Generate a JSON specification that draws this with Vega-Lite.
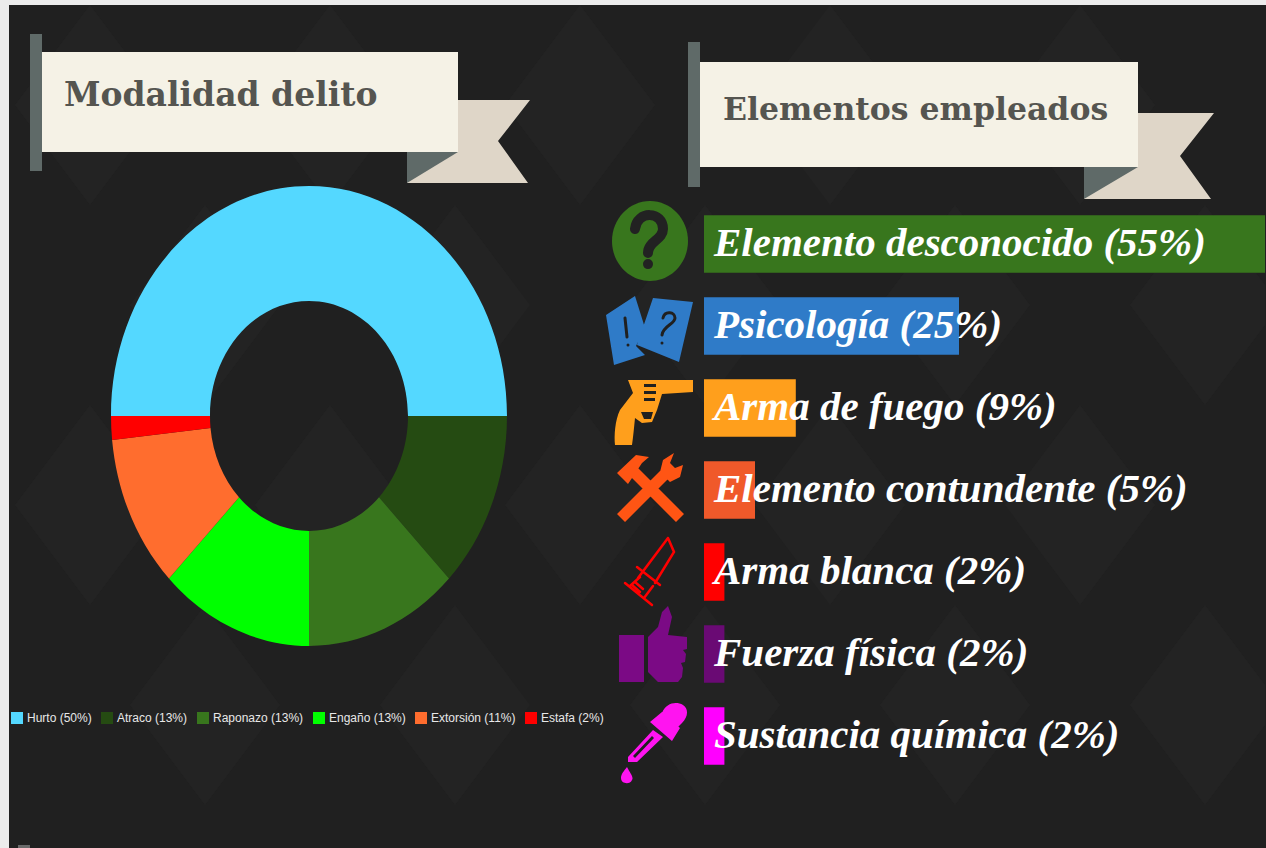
{
"$schema":"https://vega.github.io/schema/vega-lite/v6.json",
"width":1266,"height":848,"padding":0,"autosize":{"type":"none"},"background":"#ececec",
"config":{"view":{"stroke":null},"style":{"cell":{"stroke":null}}},
"datasets":{
"fondo":[{"parte":"panel"},{"parte":"textura"},{"parte":"marca"}],
"cinta":[{"parte":"poste1"},{"parte":"cola1"},{"parte":"pliegue1"},{"parte":"banner1"},{"parte":"poste2"},{"parte":"cola2"},{"parte":"pliegue2"},{"parte":"banner2"}],
"modalidad":[{"categoria":"Hurto","modalidad":"Hurto (50%)","pct":50},{"categoria":"Atraco","modalidad":"Atraco (13%)","pct":13},{"categoria":"Raponazo","modalidad":"Raponazo (13%)","pct":13},{"categoria":"Engaño","modalidad":"Engaño (13%)","pct":13},{"categoria":"Extorsión","modalidad":"Extorsión (11%)","pct":11},{"categoria":"Estafa","modalidad":"Estafa (2%)","pct":2}],
"elementos":[{"elemento":"Elemento desconocido (55%)","pct":55},{"elemento":"Psicología (25%)","pct":25},{"elemento":"Arma de fuego (9%)","pct":9},{"elemento":"Elemento contundente (5%)","pct":5},{"elemento":"Arma blanca (2%)","pct":2},{"elemento":"Fuerza física (2%)","pct":2},{"elemento":"Sustancia química (2%)","pct":2}],
"trazos":[{"elemento":"Elemento desconocido (55%)","trazo":"q"},{"elemento":"Psicología (25%)","trazo":"c"},{"elemento":"Arma blanca (2%)","trazo":"k"}]
},
"resolve":{"scale":{"x":"independent","color":"independent","shape":"independent"}},
"layer":[
{"data":{"name":"fondo"},"mark":{"type":"point","filled":true,"size":4,"opacity":1,"strokeWidth":0},
"encoding":{"x":{"value":0},"y":{"value":0},
"shape":{"field":"parte","type":"nominal","legend":null,"scale":{"domain":["panel","textura","marca"],"range":[
"M9 5H1266V848H9Z",
"M90 5l75 100l-75 100l-75 -100zM330 5l75 100l-75 100l-75 -100zM580 5l75 100l-75 100l-75 -100zM830 5l75 100l-75 100l-75 -100zM1080 5l75 100l-75 100l-75 -100zM205 205l75 100l-75 100l-75 -100zM455 205l75 100l-75 100l-75 -100zM705 205l75 100l-75 100l-75 -100zM955 205l75 100l-75 100l-75 -100zM1205 205l60 80l0 40l-60 80l-75 -100zM90 405l75 100l-75 100l-75 -100zM330 405l75 100l-75 100l-75 -100zM580 405l75 100l-75 100l-75 -100zM830 405l75 100l-75 100l-75 -100zM1080 405l75 100l-75 100l-75 -100zM205 605l75 100l-75 100l-75 -100zM455 605l75 100l-75 100l-75 -100zM705 605l75 100l-75 100l-75 -100zM955 605l75 100l-75 100l-75 -100zM1205 605l60 80l0 40l-60 80l-75 -100z",
"M18 845H30V848H18Z"]}},
"color":{"field":"parte","type":"nominal","legend":null,"scale":{"domain":["panel","textura","marca"],"range":["#202020","#232323","#6a6a6a"]}}}},
{"data":{"name":"cinta"},"mark":{"type":"point","filled":true,"size":4,"opacity":1,"strokeWidth":0},
"encoding":{"x":{"value":0},"y":{"value":0},
"shape":{"field":"parte","type":"nominal","legend":null,"sort":null,"scale":{"domain":["poste1","cola1","pliegue1","banner1","poste2","cola2","pliegue2","banner2"],"range":[
"M30 34H42V171H30Z","M407 100H530L498 141L528 183H407Z","M407 152H458L407 183Z","M42 52H458V152H42Z",
"M688 42H700V187H688Z","M1084 113H1214L1180 156L1211 199H1084Z","M1084 167H1138L1084 199Z","M700 62H1138V167H700Z"]}},
"color":{"field":"parte","type":"nominal","legend":null,"sort":null,"scale":{"domain":["poste1","cola1","pliegue1","banner1","poste2","cola2","pliegue2","banner2"],"range":["#5f6a68","#dfd6c8","#5f6a68","#f5f2e6","#5f6a68","#dfd6c8","#5f6a68","#f5f2e6"]}}}},
{"data":{"values":[{"titulo":"Modalidad delito"}]},"mark":{"type":"text","font":"DejaVu Serif","fontWeight":"bold","fontSize":33,"align":"left","baseline":"alphabetic","color":"#555550"},
"encoding":{"x":{"value":64},"y":{"value":106},"text":{"field":"titulo"}}},
{"data":{"values":[{"titulo":"Elementos empleados"}]},"mark":{"type":"text","font":"DejaVu Serif","fontWeight":"bold","fontSize":31.5,"align":"left","baseline":"alphabetic","color":"#555550"},
"encoding":{"x":{"value":723},"y":{"value":120},"text":{"field":"titulo"}}},
{"data":{"name":"modalidad"},"mark":{"type":"point","filled":true,"size":4,"opacity":1,"strokeWidth":0},
"encoding":{"x":{"value":309},"y":{"value":416},
"shape":{"field":"categoria","type":"nominal","legend":null,"sort":null,"scale":{"domain":["Hurto","Atraco","Raponazo","Engaño","Extorsión","Estafa"],"range":[
"M-198 0A198 230 0 0 1 198 0L99 0A99 115 0 0 0 -99 0Z",
"M198 0A198 230 0 0 1 140 162.6L70 81.3A99 115 0 0 0 99 0Z",
"M140 162.6A198 230 0 0 1 0 230L0 115A99 115 0 0 0 70 81.3Z",
"M0 230A198 230 0 0 1 -140 162.6L-70 81.3A99 115 0 0 0 0 115Z",
"M-140 162.6A198 230 0 0 1 -196.9 24L-98.5 12A99 115 0 0 0 -70 81.3Z",
"M-196.9 24A198 230 0 0 1 -198 0L-99 0A99 115 0 0 0 -98.5 12Z"]}},
"color":{"field":"modalidad","type":"nominal","sort":null,"scale":{"domain":["Hurto (50%)","Atraco (13%)","Raponazo (13%)","Engaño (13%)","Extorsión (11%)","Estafa (2%)"],"range":["#54d8ff","#254b12","#38761d","#00ff00","#ff6d2e","#ff0000"]},
"legend":{"title":null,"orient":"none","legendX":11,"legendY":712,"direction":"horizontal","columns":6,"symbolType":"square","symbolSize":144,"symbolStrokeWidth":0,"symbolOpacity":1,"labelColor":"#e8e8e8","labelFont":"Liberation Sans","labelFontSize":12,"labelOffset":4,"columnPadding":9,"padding":0,"labelLimit":120}}}},
{"data":{"name":"elementos"},"mark":{"type":"bar","opacity":1},
"encoding":{"y":{"field":"elemento","type":"nominal","sort":null,"axis":null,"scale":{"type":"band","domain":["Elemento desconocido (55%)","Psicología (25%)","Arma de fuego (9%)","Elemento contundente (5%)","Arma blanca (2%)","Fuerza física (2%)","Sustancia química (2%)"],"range":[203,777],"paddingInner":0.3,"paddingOuter":0.15}},
"x":{"field":"pct","type":"quantitative","axis":null,"scale":{"domain":[0,55],"range":[704,1265]}},
"color":{"field":"elemento","type":"nominal","legend":null,"sort":null,"scale":{"domain":["Elemento desconocido (55%)","Psicología (25%)","Arma de fuego (9%)","Elemento contundente (5%)","Arma blanca (2%)","Fuerza física (2%)","Sustancia química (2%)"],"range":["#38761d","#2f7bc8","#ff9f1c","#f0592a","#ff0000","#6a0a74","#ff00ff"]}}}},
{"data":{"name":"elementos"},"mark":{"type":"point","filled":true,"size":4,"opacity":1,"strokeWidth":0},
"encoding":{"x":{"value":650},
"y":{"field":"elemento","type":"nominal","sort":null,"axis":null,"scale":{"type":"band"}},
"shape":{"field":"elemento","type":"nominal","legend":null,"sort":null,"scale":{"domain":["Elemento desconocido (55%)","Psicología (25%)","Arma de fuego (9%)","Elemento contundente (5%)","Arma blanca (2%)","Fuerza física (2%)","Sustancia química (2%)"],"range":[
"M-38 -3A38 40 0 1 1 38 -3A38 40 0 1 1 -38 -3Z",
"M-44 -11L-15 -30L-5 2L-14 20L-5 29L-36 39ZM3 -28L43 -24L29 36L-13 19Z",
"M43 -28L43 -16L12 -14L7 2L2 14L-8 15L-15 10C-16 20 -17 30 -18 37L-35 37C-36 28 -35 12 -30 2L-17 -15L-22 -28ZM-6 -24L-6 -21L6 -21L6 -24ZM-6 -17L-6 -14L6 -14L6 -17ZM-6 -10L-6 -7L5 -7L5 -10ZM-9 4L-6 11L1 11L3 4Z",
"M-18 -28L34 24L26 32L-26 -20ZM-33 -17L-14 -35L-1 -33L-8 -27L-22 -6ZM-33 24L14 -23L22 -15L-25 32ZM10 -18L13 -30L24 -37L20 -27L25 -22L33 -25L30 -13L20 -8Z",
"M0 0",
"M-31 -19H-6V28H-31ZM-2 -17L8 -27L12 -42L18 -48L22 -37L18 -19L37 -17L37 -5L33 -4L36 0L35 8L31 9L33 14L32 23L28 28L8 28L-2 18Z",
"M12 -23C16 -33 26 -35 33 -31C39 -27 38 -19 32 -13L28 -9ZM0 -14L12 -24L30 -8L22 5ZM3 -6L13 1L-13 26L-22 26L-22 21ZM2 0L-17 20L-15 22L4 2ZM-23 31C-20 37 -16 41 -18 44C-20 49 -29 48 -29 42C-29 38 -26 35 -23 31Z"]}},
"color":{"field":"elemento","type":"nominal","legend":null,"sort":null,"scale":{"domain":["Elemento desconocido (55%)","Psicología (25%)","Arma de fuego (9%)","Elemento contundente (5%)","Arma blanca (2%)","Fuerza física (2%)","Sustancia química (2%)"],"range":["#38761d","#2f7bc8","#ff9f1c","#ff5514","#ff0000","#7b0a85","#ff14f0"]}}}},
{"data":{"name":"trazos"},"mark":{"type":"point","filled":false,"size":4,"opacity":1,"strokeCap":"round"},
"encoding":{"x":{"value":650},
"y":{"field":"elemento","type":"nominal","sort":null,"axis":null,"scale":{"type":"band"}},
"shape":{"field":"trazo","type":"nominal","legend":null,"scale":{"domain":["q","c","k"],"range":[
"M-15 -15C-13 -34 13 -33 13 -15C13 -4 -2 -3 -2 9M-2 20L-2 20.1",
"M-25 -8L-23 11M-22 19L-22 19.1M13 -8C15 -16 25 -14 25 -8C25 -2 13 0 12 9M12 17L12 17.1",
"M18 -34L24 -20L5 11M18 -34L-12 6M-13 -5L10 13M-10 5L-20 14M3 14L-6 26M-25 11L2 33M-15 10L-7 17M-18 13L-10 20"]}},
"color":{"field":"trazo","type":"nominal","legend":null,"scale":{"domain":["q","c","k"],"range":["#222222","#202020","#ff0000"]}},
"strokeWidth":{"field":"trazo","type":"nominal","legend":null,"scale":{"type":"ordinal","domain":["q","c","k"],"range":[10,3,2.5]}}}},
{"data":{"name":"elementos"},"mark":{"type":"text","font":"Liberation Serif","fontStyle":"italic","fontWeight":"bold","fontSize":41,"align":"left","baseline":"middle","color":"#ffffff"},
"encoding":{"x":{"value":714},
"y":{"field":"elemento","type":"nominal","sort":null,"axis":null,"scale":{"type":"band"}},
"text":{"field":"elemento"}}}
]
}
